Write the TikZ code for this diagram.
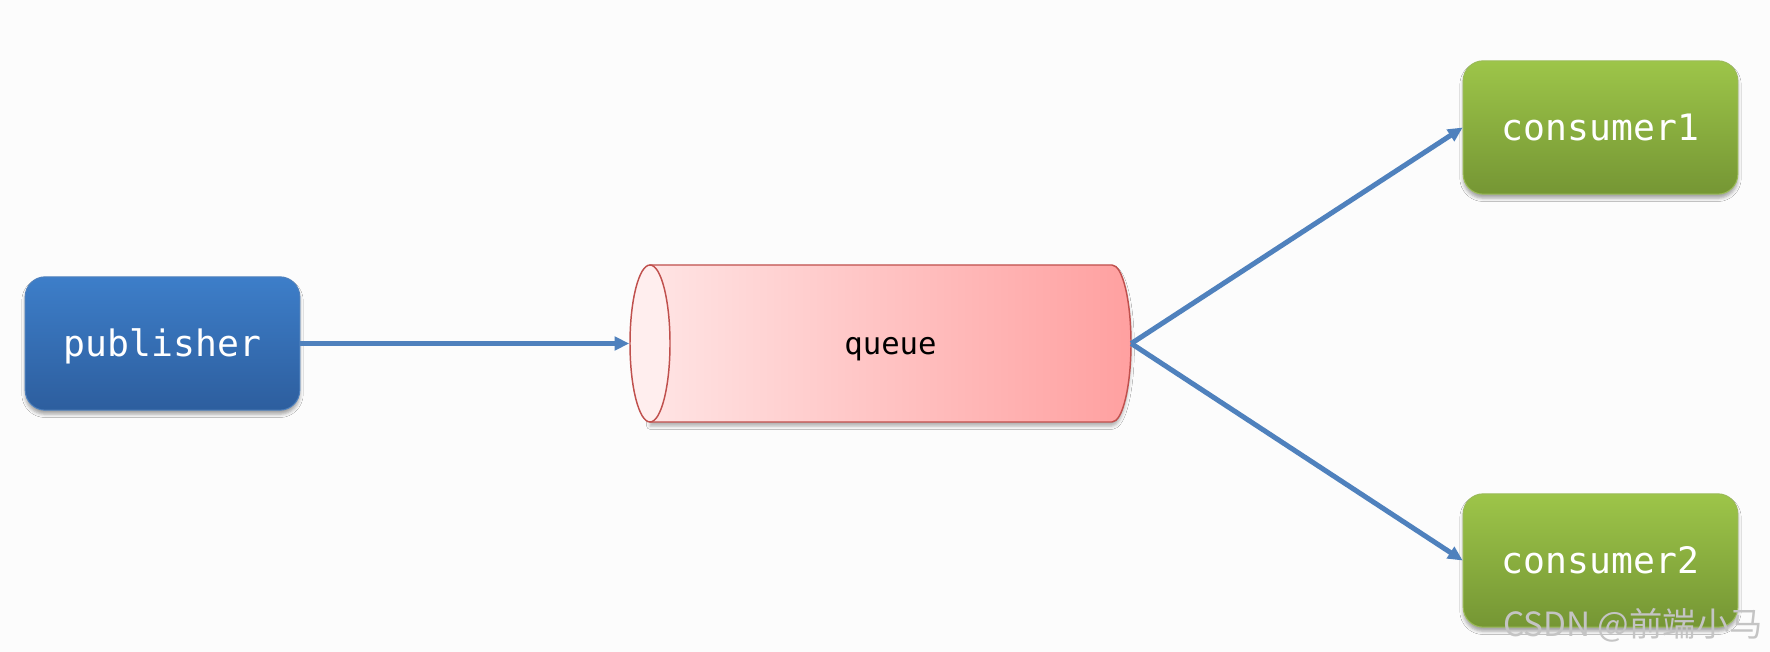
\documentclass[tikz,border=0pt]{standalone}
\usepackage{fontspec}
\usepackage{xcolor}
\usetikzlibrary{arrows.meta}
\usetikzlibrary{shadows.blur}
\usetikzlibrary{shapes.geometric}
\newfontfamily\boxfont{DejaVu Sans Mono}
\newfontfamily\cjkfont{Noto Sans CJK SC}
\definecolor{pubtop}{RGB}{61,126,201}
\definecolor{pubbot}{RGB}{45,94,158}
\definecolor{publine}{RGB}{79,129,189}
\definecolor{contop}{RGB}{157,197,73}
\definecolor{conbot}{RGB}{117,150,52}
\definecolor{conline}{RGB}{155,187,89}
\definecolor{qleft}{RGB}{255,228,228}
\definecolor{qright}{RGB}{255,160,160}
\definecolor{qface}{RGB}{255,238,238}
\definecolor{qline}{RGB}{192,80,77}
\definecolor{flowblue}{RGB}{79,129,189}
\definecolor{wmgray}{RGB}{196,196,196}

\begin{document}
\begin{tikzpicture}[x=0.75pt,y=0.75pt,yscale=-1,xscale=1,
  roundbox/.style={rounded corners=15pt, minimum width=206pt, minimum height=100pt, inner sep=0pt, text height=19pt, text depth=0pt, line width=0.75pt, text=white, font=\boxfont\fontsize{27.3}{30}\selectfont, blur shadow={shadow xshift=0pt, shadow yshift=-3pt, shadow blur radius=2.5pt, shadow opacity=35}},
  pubbox/.style={roundbox, draw=publine, top color=pubtop, bottom color=pubbot},
  conbox/.style={roundbox, draw=conline, top color=contop, bottom color=conbot},
  flow/.style={draw=flowblue, line width=3.75pt, -{Triangle[length=11pt,width=10pt]}}
]
%set diagram size
\path [use as bounding box, fill={rgb, 255:red, 252; green, 252; blue, 252}] (0,0) rectangle (1770,652);

%Shape: Rounded Rect
\node [pubbox] (pub) at (162.5,343.5) {publisher};
%Shape: Rounded Rect
\node [conbox] (con1) at (1600.5,127.5) {consumer1};
%Shape: Rounded Rect
\node [conbox] (con2) at (1600.5,560.5) {consumer2};

%Shape: Can
\draw [qline, line width=1.1pt, left color=qleft, right color=qright, blur shadow={shadow xshift=0pt, shadow yshift=-3pt, shadow blur radius=2.5pt, shadow opacity=30}] (650,265) -- (1112,265) arc [start angle=-90, end angle=90, x radius=19, y radius=78.5] -- (650,422) -- cycle ;
\node [ellipse, draw=qline, fill=qface, line width=1.1pt, minimum width=30pt, minimum height=117.75pt, inner sep=0pt] (qend) at (650,343.5) {};

% Text Node
\node [minimum width=360.75pt, minimum height=117.75pt, inner sep=0pt, text height=17.2pt, text depth=0pt, font=\boxfont\fontsize{23}{26}\selectfont] (queue) at (890.5,343.5) {queue};

%Straight Lines
\draw [flow] (pub.east) -- (qend.west) ;
\draw [flow] (queue.east) -- (con1.west) ;
\draw [flow] (queue.east) -- (con2.west) ;

% Text Node
\node [anchor=base east, inner sep=0pt, text=wmgray, font=\cjkfont\fontsize{25}{25}\selectfont] (csdn) at (1763,636) {CSDN @前端小马};

\end{tikzpicture}
\end{document}
